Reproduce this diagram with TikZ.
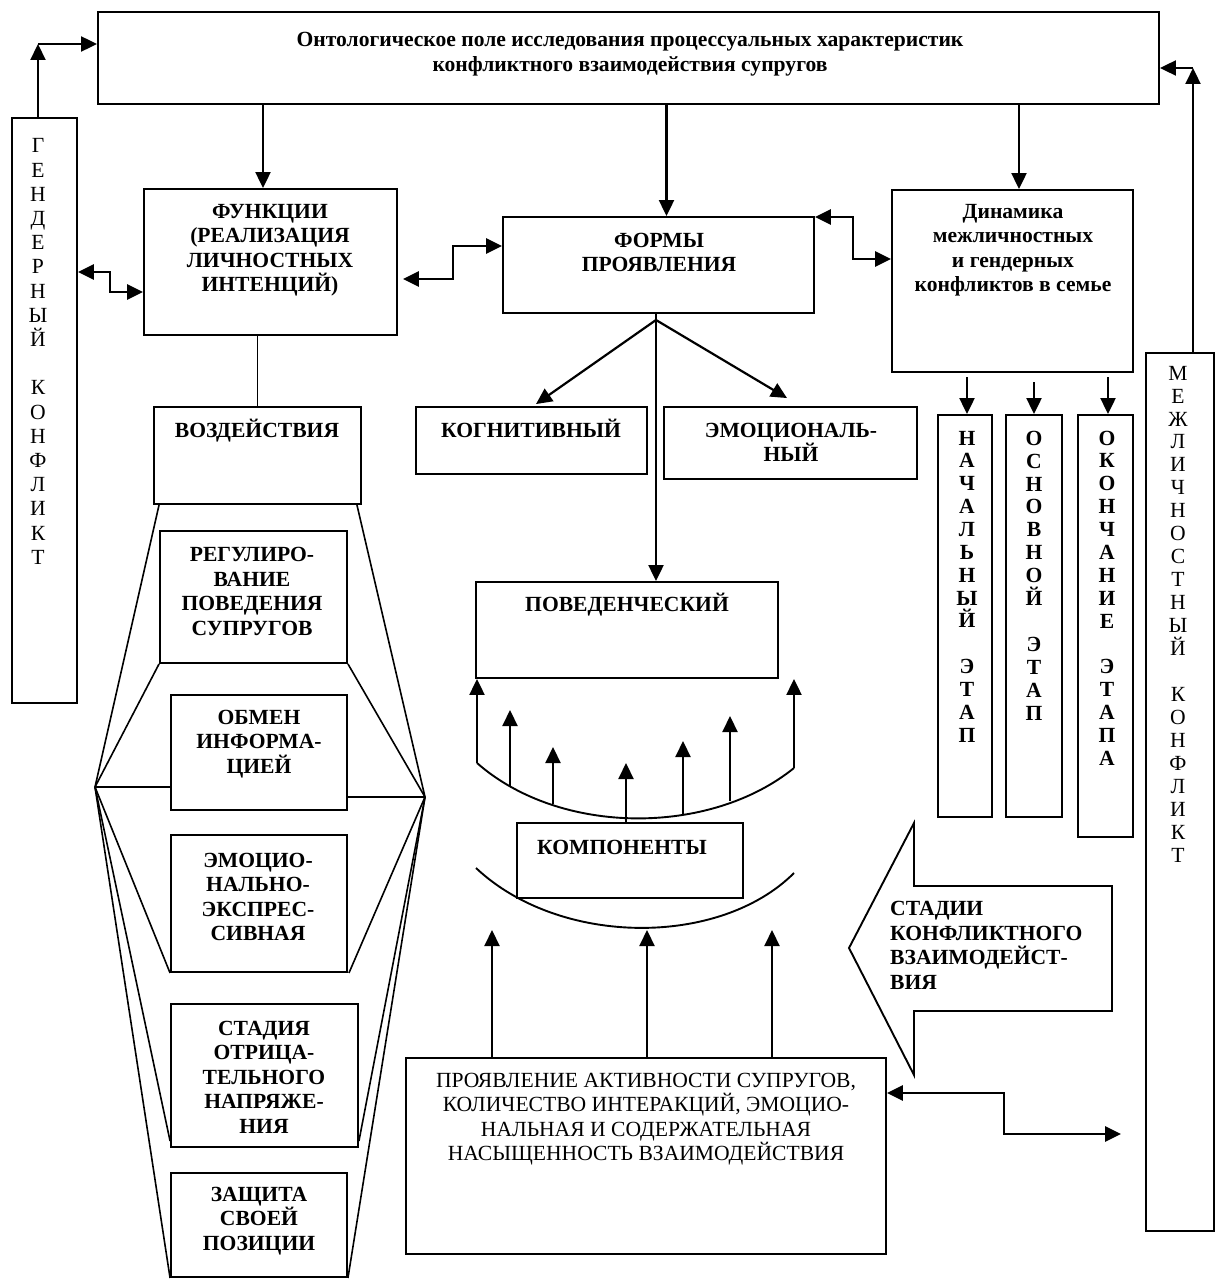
\documentclass[tikz,border=0pt]{standalone}
\usepackage{fontspec}
\setmainfont{Liberation Serif}
\usetikzlibrary{arrows.meta,calc}
\begin{document}
\begin{tikzpicture}[x=1pt,y=-1pt,
  box/.style={draw,line width=1.9pt,rectangle,inner sep=0pt},
  txt/.style={inner sep=0pt,align=center,font=\fontsize{21.6}{24.5}\selectfont\bfseries},
  rtxt/.style={inner sep=0pt,align=center,font=\fontsize{21.6}{24.5}\selectfont},
  arr/.style={line width=2.2pt,-{Triangle[length=16pt,width=15pt]}},
  darr/.style={line width=2.9pt,{Triangle[length=16pt,width=15pt]}-{Triangle[length=16pt,width=15pt]}},
  fl/.style={line width=1.6pt},
  arc/.style={line width=1.9pt}]
\useasboundingbox (0,0) rectangle (1215,1279);
\fill[white] (0,0) rectangle (1215,1279);

% ---------- boxes ----------
\node[box,minimum width=1061,minimum height=92] (top) at (628.5,58) {};
\node[box,minimum width=65,minimum height=585] (gend) at (44.5,410.5) {};
\node[box,minimum width=253,minimum height=146] (func) at (270.5,262) {};
\node[box,minimum width=311,minimum height=96] (formy) at (658.5,265) {};
\node[box,minimum width=241,minimum height=182] (dyn) at (1012.5,281) {};
\node[box,minimum width=231,minimum height=67] (cogn) at (531.5,440.5) {};
\node[box,minimum width=253,minimum height=72] (emo) at (790.5,443) {};
\node[box,minimum width=207,minimum height=97] (vozd) at (257.5,455.5) {};
\node[box,minimum width=187,minimum height=132] (reg) at (253.5,597) {};
\node[box,minimum width=176,minimum height=115] (obmen) at (259,752.5) {};
\node[box,minimum width=176,minimum height=137] (emoc) at (259,903.5) {};
\node[box,minimum width=187,minimum height=143] (stad) at (264.5,1075.5) {};
\node[box,minimum width=176,minimum height=104] (zash) at (259,1225) {};
\node[box,minimum width=302,minimum height=96] (pov) at (627,630) {};
\node[box,minimum width=226,minimum height=75] (komp) at (630,860.5) {};
\node[box,minimum width=480,minimum height=196] (prov) at (646,1156) {};
\node[box,minimum width=54,minimum height=402] (st1) at (965,616) {};
\node[box,minimum width=56,minimum height=402] (st2) at (1034,616) {};
\node[box,minimum width=55,minimum height=422] (st3) at (1105.5,626) {};
\node[box,minimum width=68,minimum height=878] (mezh) at (1180,792) {};

% ---------- texts ----------
\node[txt] (ttop) at (630,54) {Онтологическое поле исследования процессуальных характеристик\\конфликтного взаимодействия супругов};
\node[txt] (tfunc) at (270,250) {ФУНКЦИИ\\(РЕАЛИЗАЦИЯ\\ЛИЧНОСТНЫХ\\ИНТЕНЦИЙ)};
\node[txt] (tformy) at (659,252.5) {ФОРМЫ\\ПРОЯВЛЕНИЯ};
\node[txt] (tdyn) at (1013,250) {Динамика\\межличностных\\и гендерных\\конфликтов в семье};
\node[txt] (tcogn) at (531,428) {КОГНИТИВНЫЙ};
\node[txt] (temo) at (791,442.5) {ЭМОЦИОНАЛЬ-\\НЫЙ};
\node[txt] (tvozd) at (257,431) {ВОЗДЕЙСТВИЯ};
\node[txt] (treg) at (252,591.5) {РЕГУЛИРО-\\ВАНИЕ\\ПОВЕДЕНИЯ\\СУПРУГОВ};
\node[txt] (tobmen) at (259,744) {ОБМЕН\\ИНФОРМА-\\ЦИЕЙ};
\node[txt] (temoc) at (258,897) {ЭМОЦИО-\\НАЛЬНО-\\ЭКСПРЕС-\\СИВНАЯ};
\node[txt] (tstad) at (264,1077) {СТАДИЯ\\ОТРИЦА-\\ТЕЛЬНОГО\\НАПРЯЖЕ-\\НИЯ};
\node[txt] (tzash) at (259,1221) {ЗАЩИТА\\СВОЕЙ\\ПОЗИЦИИ};
\node[txt] (tpov) at (627,605) {ПОВЕДЕНЧЕСКИЙ};
\node[txt] (tkomp) at (622,847) {КОМПОНЕНТЫ};
\node[rtxt] (tprov) at (646,1119) {ПРОЯВЛЕНИЕ АКТИВНОСТИ СУПРУГОВ,\\КОЛИЧЕСТВО ИНТЕРАКЦИЙ, ЭМОЦИО-\\НАЛЬНАЯ И СОДЕРЖАТЕЛЬНАЯ\\НАСЫЩЕННОСТЬ ВЗАИМОДЕЙСТВИЯ};
\node[rtxt,font=\fontsize{21.6}{24.2}\selectfont] (tgend) at (38,351.5) {Г\\Е\\Н\\Д\\Е\\Р\\Н\\Ы\\Й\\\mbox{}\\К\\О\\Н\\Ф\\Л\\И\\К\\Т};
\node[txt,font=\fontsize{21.6}{22.85}\selectfont\bfseries] (tst1) at (967,586.5) {Н\\А\\Ч\\А\\Л\\Ь\\Н\\Ы\\Й\\\mbox{}\\Э\\Т\\А\\П};
\node[txt,font=\fontsize{21.6}{22.9}\selectfont\bfseries] (tst2) at (1034,575.5) {О\\С\\Н\\О\\В\\Н\\О\\Й\\\mbox{}\\Э\\Т\\А\\П};
\node[txt,font=\fontsize{21.6}{22.86}\selectfont\bfseries] (tst3) at (1107,598) {О\\К\\О\\Н\\Ч\\А\\Н\\И\\Е\\\mbox{}\\Э\\Т\\А\\П\\А};
\node[rtxt,font=\fontsize{21.6}{22.95}\selectfont] (tmezh) at (1178,614) {М\\Е\\Ж\\Л\\И\\Ч\\Н\\О\\С\\Т\\Н\\Ы\\Й\\\mbox{}\\К\\О\\Н\\Ф\\Л\\И\\К\\Т};

% ---------- Стадии arrow shape ----------
\draw[line width=1.9pt] (914,823) -- (914,886) -- (1112,886) -- (1112,1011) -- (914,1011) -- (914,1075) -- (849,948) -- cycle;
\node[txt,align=left,anchor=west] (tstadii) at (890,945.5) {СТАДИИ\\КОНФЛИКТНОГО\\ВЗАИМОДЕЙСТ-\\ВИЯ};

% ---------- connectors: frame ----------
\coordinate (gA) at ($(gend.north)+(-6.5,0)$);
\coordinate (gB) at (38,44);
\draw[arr] (gA) -- (gB);
\draw[arr] (gB) -- (gB -| top.west);
\coordinate (mA) at ($(mezh.north)+(13,0)$);
\coordinate (mB) at (1193,68);
\draw[arr] (mA) -- (mB);
\draw[arr] (mB) -- (mB -| top.east);

\coordinate (a1) at ($(func.north)+(-7.5,0)$);
\draw[arr] (top.south -| a1) -- (a1);
\coordinate (a2) at ($(formy.north)+(8,0)$);
\draw[arr] (top.south -| a2) -- (a2);
\coordinate (a3) at ($(dyn.north)+(6.5,0)$);
\draw[arr] (top.south -| a3) -- (a3);

% double arrows
\coordinate (d1) at (110,272);
\coordinate (d2) at (110,292);
\draw[darr] (gend.east |- d1) -- (d1) -- (d2) -- (d2 -| func.west);
\coordinate (d3) at (453,279);
\coordinate (d4) at (453,246);
\draw[darr] ([xshift=5pt]func.east |- d3) -- (d3) -- (d4) -- (d4 -| formy.west);
\coordinate (d5) at (853,217);
\coordinate (d6) at (853,259);
\draw[darr] (formy.east |- d5) -- (d5) -- (d6) -- (d6 -| dyn.west);
\coordinate (d7) at (1004,1093);
\coordinate (d8) at (1004,1134);
\coordinate (d9) at (1121,1134);
\draw[darr] (prov.east |- d7) -- (d7) -- (d8) -- (d9);

% forms of manifestation
\coordinate (fa) at (656,320);
\draw[arr] (formy.south -| fa) -- (pov.north -| fa);
\coordinate (c1) at ($(cogn.north)+(4.5,-2)$);
\coordinate (c2) at ($(emo.north)+(-3.5,-8)$);
\draw[arr] (fa) -- (c1);
\draw[arr] (fa) -- (c2);

% stages
\draw[arr] ($(st1.north)+(2,-37)$) -- ($(st1.north)+(2,0)$);
\draw[arr] ($(st2.north)+(0,-32)$) -- ($(st2.north)+(0,0)$);
\draw[arr] ($(st3.north)+(2.5,-37)$) -- ($(st3.north)+(2.5,0)$);

% ---------- funnel of functions ----------
\draw[fl] (func.south -| vozd.north) -- (vozd.north);
\coordinate (L) at (95,787);
\coordinate (R) at (425,797);
\draw[fl] ($(vozd.south west)+(6,0)$) -- (L);
\draw[fl] ($(vozd.south east)+(-5,0)$) -- (R);
\draw[fl] (reg.south west) -- (L);
\draw[fl] (reg.south east) -- (R);
\draw[fl] (L) -- (L -| obmen.west);
\draw[fl] (obmen.east |- R) -- (R);
\draw[fl] (L) -- (emoc.south west);
\draw[fl] (R) -- ($(emoc.south east)+(1,0)$);
\draw[fl] (L) -- ($(stad.south west)+(0,-7)$);
\draw[fl] (R) -- ($(stad.south east)+(0,-7)$);
\draw[fl] (L) -- (zash.south west);
\draw[fl] (R) -- (zash.south east);

% ---------- components arcs ----------
\coordinate (u1) at (477,763);
\coordinate (u2) at (794,768);
\draw[arc] (u1) .. controls (560,836) and (710,836) .. (u2);
\draw[arr] (u1) -- (u1 |- pov.south);
\draw[arr] (u2) -- (u2 |- pov.south);
\coordinate (b1) at (510,786);  \coordinate (e1) at (510,710);
\coordinate (b2) at (553,804);  \coordinate (e2) at (553,747);
\coordinate (b3) at ($(komp.north)+(-4,0)$);  \coordinate (e3) at (626,763);
\coordinate (b4) at (683,814);  \coordinate (e4) at (683,741);
\coordinate (b5) at (730,801);  \coordinate (e5) at (730,716);
\draw[arr] (b1) -- (e1);
\draw[arr] (b2) -- (e2);
\draw[arr] (b3) -- (e3);
\draw[arr] (b4) -- (e4);
\draw[arr] (b5) -- (e5);
\coordinate (l1) at (476,868);
\coordinate (l2) at (794,873);
\draw[arc] (l1) .. controls (560,947) and (720,947) .. (l2);
\coordinate (k1) at (492,930);
\coordinate (k2) at (647,930);
\coordinate (k3) at (772,930);
\draw[arr] (prov.north -| k1) -- (k1);
\draw[arr] (prov.north -| k2) -- (k2);
\draw[arr] (prov.north -| k3) -- (k3);
\end{tikzpicture}
\end{document}
